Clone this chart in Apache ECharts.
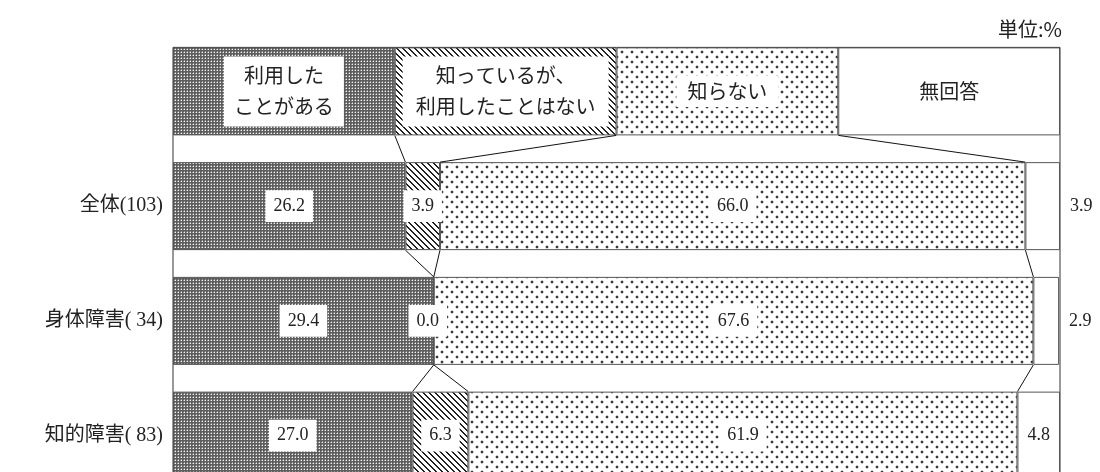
<!DOCTYPE html>
<html><head><meta charset="utf-8">
<script src="https://cdn.jsdelivr.net/npm/echarts@6/dist/echarts.min.js"></script>
<style>html,body{margin:0;padding:0;background:#fff}#c{width:1100px;height:472px}</style>
</head><body><div id="c"></div>
<script>
// ---- data ----
const categories = ['', '全体(103)', '身体障害( 34)', '知的障害( 83)'];
const seriesNames = ['利用した\nことがある', '知っているが、\n利用したことはない', '知らない', '無回答'];
const headerValues = [25, 25, 25, 25];
const used = [26.2, 29.4, 27.0];
const knownNotUsed = [3.9, 0.0, 6.3];
const unknown = [66.0, 67.6, 61.9];
const noAnswer = [3.9, 2.9, 4.8];
const unitLabel = '単位:%';

const rowValues = [used, knownNotUsed, unknown, noAnswer];

// ---- patterns ----
function tile(w, h, fn) {
  const c = document.createElement('canvas'); c.width = w; c.height = h;
  const ctx = c.getContext('2d'); fn(ctx, w, h); return c;
}
const patDark = tile(3, 3, (ctx) => {
  ctx.fillStyle = '#5e5e5e'; ctx.fillRect(0, 0, 3, 3);
  ctx.fillStyle = '#f2f2f2'; ctx.fillRect(1, 1, 1, 1);
  ctx.fillStyle = '#9a9a9a'; ctx.fillRect(0, 1, 1, 1); ctx.fillRect(1, 0, 1, 1);
});
const patStripe = tile(6, 6, (ctx) => {
  ctx.fillStyle = '#fff'; ctx.fillRect(0, 0, 6, 6);
  ctx.fillStyle = '#222';
  for (let y = 0; y < 6; y++) for (let x = 0; x < 6; x++) {
    const d = ((x - y) % 6 + 6) % 6;
    if (d === 0 || d === 1) ctx.fillRect(x, y, 1, 1);
  }
});
const patDots = tile(10, 10, (ctx) => {
  ctx.fillStyle = '#fff'; ctx.fillRect(0, 0, 10, 10);
  ctx.fillStyle = '#d0d0d0';
  ctx.fillRect(0, 1, 4, 2); ctx.fillRect(1, 0, 2, 4);
  ctx.fillRect(5, 6, 4, 2); ctx.fillRect(6, 5, 2, 4);
  ctx.fillStyle = '#3a3a3a';
  ctx.fillRect(1, 1, 2, 2); ctx.fillRect(6, 6, 2, 2);
});
const fills = [
  { image: patDark, repeat: 'repeat' },
  { image: patStripe, repeat: 'repeat' },
  { image: patDots, repeat: 'repeat' },
  '#fff'
];

const jpFont = "'Noto Sans CJK JP', sans-serif";
const numFont = "'Liberation Serif', 'Noto Sans CJK JP', serif";
const BAR = 88;

// header label styles
const headerLabel = [
  { backgroundColor: '#fff', padding: [4, 10], lineHeight: 31 },
  { backgroundColor: '#fff', padding: [4, 13], lineHeight: 31 },
  { backgroundColor: '#fff', padding: [5, 11], lineHeight: 21 },
  { lineHeight: 21 }
];

function buildSeries(s) {
  const data = [{
    value: headerValues[s],
    label: Object.assign({
      show: true, position: 'inside', formatter: seriesNames[s],
      fontSize: 20, fontFamily: jpFont, color: '#222'
    }, headerLabel[s])
  }];
  rowValues[s].forEach((v, i) => {
    const lab = {
      show: true, position: 'inside', formatter: v.toFixed(1),
      fontSize: 18, fontFamily: numFont, color: '#222',
      backgroundColor: '#fff', padding: [7, 8]
    };
    if (s === 3 && v < 4.5) { lab.position = 'right'; lab.distance = 2; }
    if (s === 1 && v === 0) { lab.offset = [-6, 0]; }
    data.push({ value: v, label: lab });
  });
  return {
    type: 'bar', name: seriesNames[s], stack: 'total', barWidth: BAR,
    itemStyle: { color: fills[s], borderColor: '#555', borderWidth: 1 },
    data: data, z: 3
  };
}

// cumulative boundaries per row (header + rows)
const allRows = [headerValues].concat(used.map((_, i) => rowValues.map(arr => arr[i])));
const cum = allRows.map(r => { let a = 0; return r.slice(0, 3).map(v => (a += v)); });

const chart = echarts.init(document.getElementById('c'), null, { renderer: 'canvas' });
chart.setOption({
  animation: false,
  backgroundColor: '#fff',
  title: {
    text: unitLabel, right: 38, top: 19, padding: 0,
    textStyle: { fontSize: 20, fontWeight: 'normal', color: '#222', fontFamily: jpFont }
  },
  grid: { left: 173, right: 40, top: 34, height: 459, containLabel: false, outerBoundsMode: 'none' },
  xAxis: { type: 'value', min: 0, max: 100, show: false },
  yAxis: {
    type: 'category', data: categories, inverse: true,
    axisLine: { show: false }, axisTick: { show: false },
    axisLabel: { fontSize: 20, margin: 10, color: '#222', fontFamily: numFont }
  },
  series: [
    {
      type: 'custom', name: 'frame', z: 1, silent: true,
      encode: { x: 0, y: 1 },
      data: [[0, 0]],
      renderItem: function (params, api) {
        const p0 = api.coord([0, 0]);
        const p1 = api.coord([100, categories.length - 1]);
        return {
          type: 'rect',
          shape: { x: p0[0], y: p0[1] - BAR / 2, width: p1[0] - p0[0], height: (p1[1] + BAR / 2) - (p0[1] - BAR / 2) },
          style: { fill: '#fff', stroke: '#333', lineWidth: 1 }
        };
      }
    },
    buildSeries(0), buildSeries(1), buildSeries(2), buildSeries(3),
    {
      type: 'custom', name: 'connectors', z: 4, silent: true,
      encode: { x: 0, y: 1 },
      data: [[0, 0], [0, 1], [0, 2]],
      renderItem: function (params, api) {
        const i = params.dataIndex;
        const children = [];
        for (let k = 0; k < 3; k++) {
          const a = api.coord([cum[i][k], i]);
          const b = api.coord([cum[i + 1][k], i + 1]);
          children.push({
            type: 'line',
            shape: { x1: a[0], y1: a[1] + BAR / 2, x2: b[0], y2: b[1] - BAR / 2 },
            style: { stroke: '#111', lineWidth: 1 }
          });
        }
        return { type: 'group', children: children };
      }
    }
  ]
});
</script></body></html>
